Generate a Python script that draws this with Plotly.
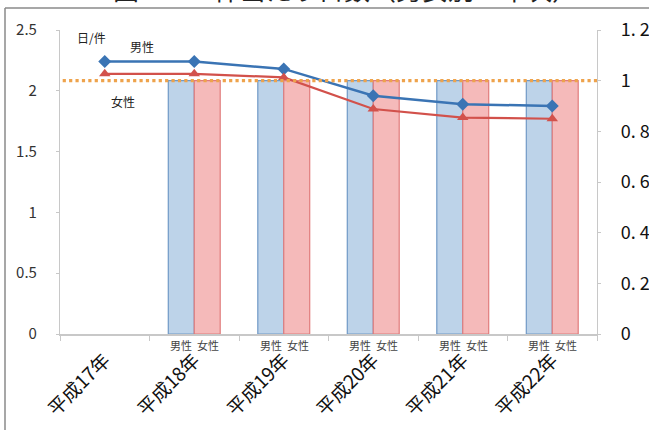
import plotly.graph_objects as go

# Fiscal years (Heisei era)
years = ["平成17年", "平成18年", "平成19年", "平成20年", "平成21年", "平成22年"]
bar_years = ["平成18年", "平成19年", "平成20年", "平成21年", "平成22年"]

# Days per claim (left axis, 日/件)
male_days = [2.24, 2.24, 2.18, 1.96, 1.89, 1.875]
female_days = [2.14, 2.14, 2.11, 1.85, 1.78, 1.77]

# Bars on the right axis
male_bar = [1.0, 1.0, 1.0, 1.0, 1.0]
female_bar = [1.0, 1.0, 1.0, 1.0, 1.0]
ref_level = 1.0

left_ticks = [0, 0.5, 1, 1.5, 2, 2.5]
left_text = ["0", "0.5", "1", "1.5", "2", "2.5"]
right_ticks = [0, 0.2, 0.4, 0.6, 0.8, 1.0, 1.2]
right_text = ["0", "0. 2", "0. 4", "0. 6", "0. 8", "1", "1. 2"]

FONT = "Noto Sans CJK JP"
BLUE_LINE = "#3a74b4"
RED_LINE = "#d2514b"

# plot area in pixels
L, R, T, B = 60, 597, 30, 334
W, H = R - L, B - T


def px(x):
    return (x - L) / W


def py(y):
    return (B - y) / H


fig = go.Figure()

fig.add_trace(go.Bar(
    x=bar_years, y=male_bar, name="男性", yaxis="y",
    marker=dict(color="#bdd3e9", line=dict(color="#7099c6", width=1.2)),
))
fig.add_trace(go.Bar(
    x=bar_years, y=female_bar, name="女性", yaxis="y",
    marker=dict(color="#f5baba", line=dict(color="#e07c7c", width=1.2)),
))

fig.add_trace(go.Scatter(
    x=years, y=male_days, yaxis="y2", mode="lines+markers",
    line=dict(color=BLUE_LINE, width=2.5),
    marker=dict(symbol="diamond", size=10, color=BLUE_LINE),
))
fig.add_trace(go.Scatter(
    x=years, y=female_days, yaxis="y2", mode="lines+markers",
    line=dict(color=RED_LINE, width=2.2),
    marker=dict(symbol="triangle-up", size=10, color=RED_LINE),
))

shapes = [
    # reference level
    dict(type="line", xref="paper", yref="y", x0=0.005, x1=1.0,
         y0=ref_level, y1=ref_level, layer="above",
         line=dict(color="#eea34c", width=3.2, dash="dot")),
    # frame
    dict(type="line", xref="paper", yref="paper", x0=px(5), x1=px(649),
         y0=py(8), y1=py(8), line=dict(color="#8a8a8a", width=1.5)),
    dict(type="line", xref="paper", yref="paper", x0=px(5), x1=px(5),
         y0=py(8), y1=py(430), line=dict(color="#8a8a8a", width=1.5)),
]


def note(text, x, y, size=12):
    return dict(text=text, xref="paper", yref="paper", x=px(x), y=py(y),
                xanchor="center", yanchor="middle", showarrow=False,
                font=dict(family=FONT, size=size, color="#222"))


annotations = [
    dict(text="図 10．1件当たり日数（男女別・年次）", xref="paper", yref="paper",
         x=px(345), y=py(9), xanchor="center", yanchor="bottom", showarrow=False,
         font=dict(family=FONT, size=26, color="#222")),
    note("日/件", 91, 38),
    note("男性", 142, 46),
    note("女性", 123, 101),
]
for yr in bar_years:
    for label, shift in (("男性", -13), ("女性", 14)):
        annotations.append(dict(
            text=label, x=yr, xref="x", y=0, yref="paper", yanchor="top",
            xanchor="center", xshift=shift, yshift=-1, showarrow=False,
            font=dict(family=FONT, size=11, color="#444")))

fig.update_layout(
    width=649, height=430,
    margin=dict(l=L, r=649 - R, t=T, b=430 - B, autoexpand=False),
    paper_bgcolor="white", plot_bgcolor="white",
    showlegend=False,
    barmode="group", bargap=0.42, bargroupgap=0,
    font=dict(family=FONT),
    shapes=shapes, annotations=annotations,
    xaxis=dict(
        type="category", categoryorder="array", categoryarray=years,
        range=[-0.5, 5.5], automargin=False,
        showline=True, linecolor="#c8c8c8", linewidth=1.5,
        ticks="outside", ticklen=5, tickcolor="#c8c8c8", tickson="boundaries",
        tickangle=-45, ticklabelstandoff=6,
        tickfont=dict(family=FONT, size=19, color="#111"),
        showgrid=False, zeroline=False,
    ),
    yaxis=dict(
        side="right", range=[0, 1.2], tickvals=right_ticks, ticktext=right_text,
        automargin=False,
        showline=True, linecolor="#c8c8c8", linewidth=1.2,
        ticks="outside", ticklen=3, tickcolor="#c8c8c8", ticklabelstandoff=16,
        tickfont=dict(family=FONT, size=18, color="#111"),
        showgrid=False, zeroline=False,
    ),
    yaxis2=dict(
        overlaying="y", side="left", range=[0, 2.5], automargin=False,
        tickvals=left_ticks, ticktext=left_text,
        showline=True, linecolor="#c8c8c8", linewidth=1.2,
        ticks="outside", ticklen=3, tickcolor="#c8c8c8", ticklabelstandoff=16,
        tickfont=dict(family=FONT, size=15, color="#333"),
        showgrid=False, zeroline=False,
    ),
)

fig.write_html("out.html")
